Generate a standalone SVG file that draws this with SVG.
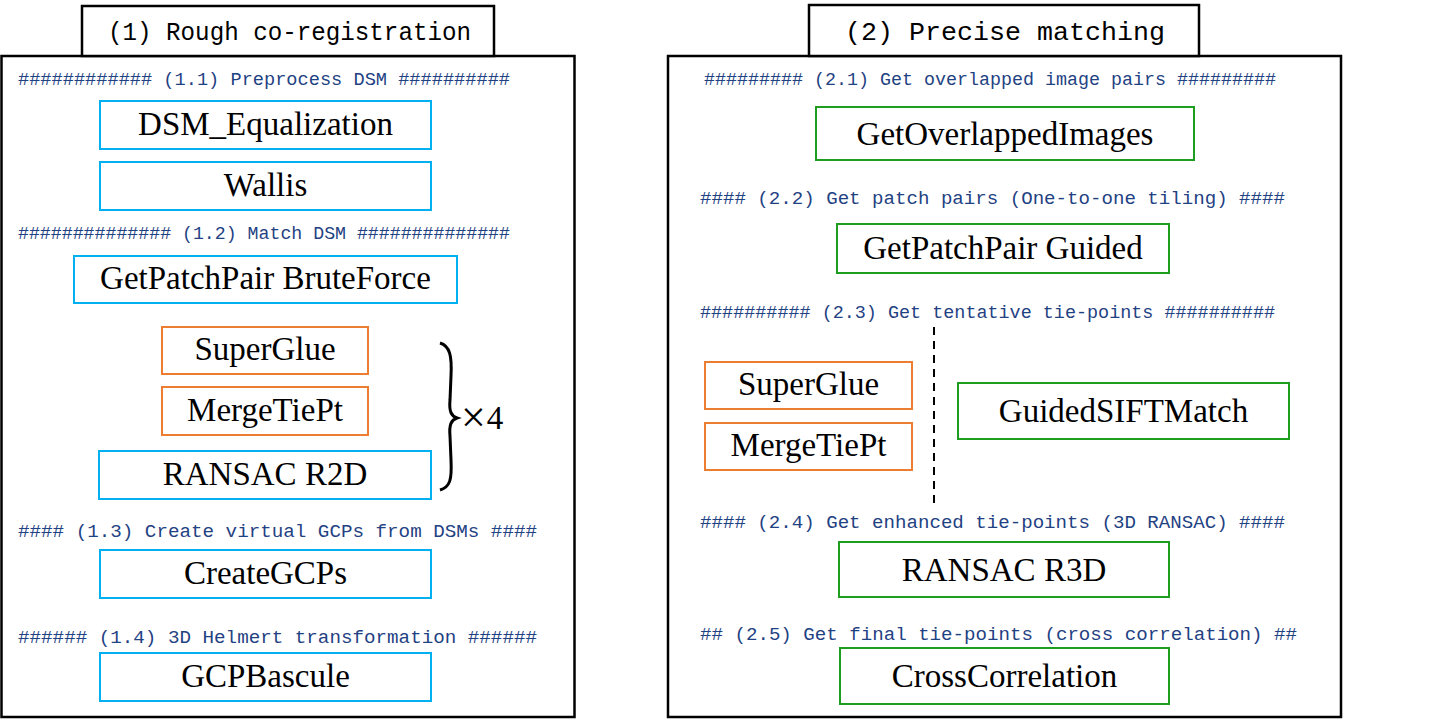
<svg xmlns="http://www.w3.org/2000/svg" width="1438" height="719" viewBox="0 0 1438 719">
<style>
.panel{fill:#fff;stroke:#000;stroke-width:2.5}
.title{font-family:"Liberation Mono","Noto Sans CJK SC",monospace;font-size:26px;fill:#000;text-anchor:start}
.cmt{font-family:"Liberation Mono","Noto Sans CJK SC",monospace;font-size:19px;fill:#1F4283}
.bl{fill:#fff;stroke:#00B0F0;stroke-width:2}
.or{fill:#fff;stroke:#ED7D31;stroke-width:2}
.gr{fill:#fff;stroke:#1E9E1E;stroke-width:2}
.lbl{font-family:"Liberation Serif","Times New Roman",serif;font-size:33px;fill:#000;text-anchor:middle}
</style>
<rect width="1438" height="719" fill="#fff"/>
<g id="panel1">
<rect class="panel" x="1.5" y="56" width="573" height="661"/>
<rect class="panel" x="82" y="6" width="412" height="50"/>
<text class="title" x="108" y="40" textLength="363" lengthAdjust="spacingAndGlyphs">(1) Rough co-registration</text>
<text class="cmt" x="18" y="85" textLength="492" lengthAdjust="spacingAndGlyphs">############ (1.1) Preprocess DSM ##########</text>
<text class="cmt" x="18" y="239" textLength="492" lengthAdjust="spacingAndGlyphs">############## (1.2) Match DSM ##############</text>
<text class="cmt" x="18" y="537" textLength="519" lengthAdjust="spacingAndGlyphs">#### (1.3) Create virtual GCPs from DSMs ####</text>
<text class="cmt" x="18" y="643" textLength="519" lengthAdjust="spacingAndGlyphs">###### (1.4) 3D Helmert transformation ######</text>
</g>
<g id="panel2">
<rect class="panel" x="668" y="56" width="673" height="661"/>
<rect class="panel" x="809" y="5" width="390" height="51"/>
<text class="title" x="845" y="40" textLength="320" lengthAdjust="spacingAndGlyphs">(2) Precise matching</text>
<text class="cmt" x="704" y="85" textLength="572" lengthAdjust="spacingAndGlyphs">######### (2.1) Get overlapped image pairs #########</text>
<text class="cmt" x="700" y="204" textLength="585" lengthAdjust="spacingAndGlyphs">#### (2.2) Get patch pairs (One-to-one tiling) ####</text>
<text class="cmt" x="700" y="318" textLength="575" lengthAdjust="spacingAndGlyphs">########## (2.3) Get tentative tie-points ##########</text>
<text class="cmt" x="700" y="528" textLength="585" lengthAdjust="spacingAndGlyphs">#### (2.4) Get enhanced tie-points (3D RANSAC) ####</text>
<text class="cmt" x="700" y="640" textLength="597" lengthAdjust="spacingAndGlyphs">## (2.5) Get final tie-points (cross correlation) ##</text>
</g>
<g id="n-dsmeq"><rect class="bl" x="100" y="101" width="331" height="48"/><text class="lbl" x="265.5" y="135">DSM_Equalization</text></g>
<g id="n-wallis"><rect class="bl" x="100" y="162" width="331" height="48"/><text class="lbl" x="265.5" y="196">Wallis</text></g>
<g id="n-gppbf"><rect class="bl" x="74" y="256" width="383" height="47"/><text class="lbl" x="265.5" y="289">GetPatchPair BruteForce</text></g>
<g id="n-sg1"><rect class="or" x="162" y="327" width="206" height="47"/><text class="lbl" x="265" y="360">SuperGlue</text></g>
<g id="n-mtp1"><rect class="or" x="162" y="387" width="206" height="48"/><text class="lbl" x="265" y="421">MergeTiePt</text></g>
<g id="n-r2d"><rect class="bl" x="99" y="451" width="332" height="48"/><text class="lbl" x="265" y="485">RANSAC R2D</text></g>
<g id="n-cgcp"><rect class="bl" x="100" y="550" width="331" height="48"/><text class="lbl" x="265.5" y="584">CreateGCPs</text></g>
<g id="n-gcpb"><rect class="bl" x="100" y="653" width="331" height="48"/><text class="lbl" x="265.5" y="687">GCPBascule</text></g>
<g id="n-goi"><rect class="gr" x="816" y="107" width="378" height="53"/><text class="lbl" x="1005" y="145">GetOverlappedImages</text></g>
<g id="n-gppg"><rect class="gr" x="837" y="224" width="332" height="49"/><text class="lbl" x="1003" y="259">GetPatchPair Guided</text></g>
<g id="n-sg2"><rect class="or" x="705" y="362" width="207" height="47"/><text class="lbl" x="808.5" y="395">SuperGlue</text></g>
<g id="n-mtp2"><rect class="or" x="705" y="423" width="207" height="47"/><text class="lbl" x="808.5" y="456">MergeTiePt</text></g>
<g id="n-gsift"><rect class="gr" x="958" y="383" width="331" height="56"/><text class="lbl" x="1123.5" y="422">GuidedSIFTMatch</text></g>
<g id="n-r3d"><rect class="gr" x="839" y="542" width="330" height="55"/><text class="lbl" x="1004" y="581">RANSAC R3D</text></g>
<g id="n-cc"><rect class="gr" x="840" y="648" width="329" height="56"/><text class="lbl" x="1004.5" y="687">CrossCorrelation</text></g>
<g id="connectors">
<path d="M440,343 C450,346 452,356 451,376 L450,400 C449,411 451,416 457,418 C451,420 449,425 450,436 L451,460 C452,480 450,487 440,490" fill="none" stroke="#000" stroke-width="3"/>
<text class="lbl" x="461" y="429" style="text-anchor:start"><tspan style="font-size:44px" dy="3">×</tspan><tspan dy="-3" dx="1">4</tspan></text>
<line x1="934" y1="327" x2="934" y2="505" stroke="#000" stroke-width="2" stroke-dasharray="8,6"/>
</g>
</svg>
